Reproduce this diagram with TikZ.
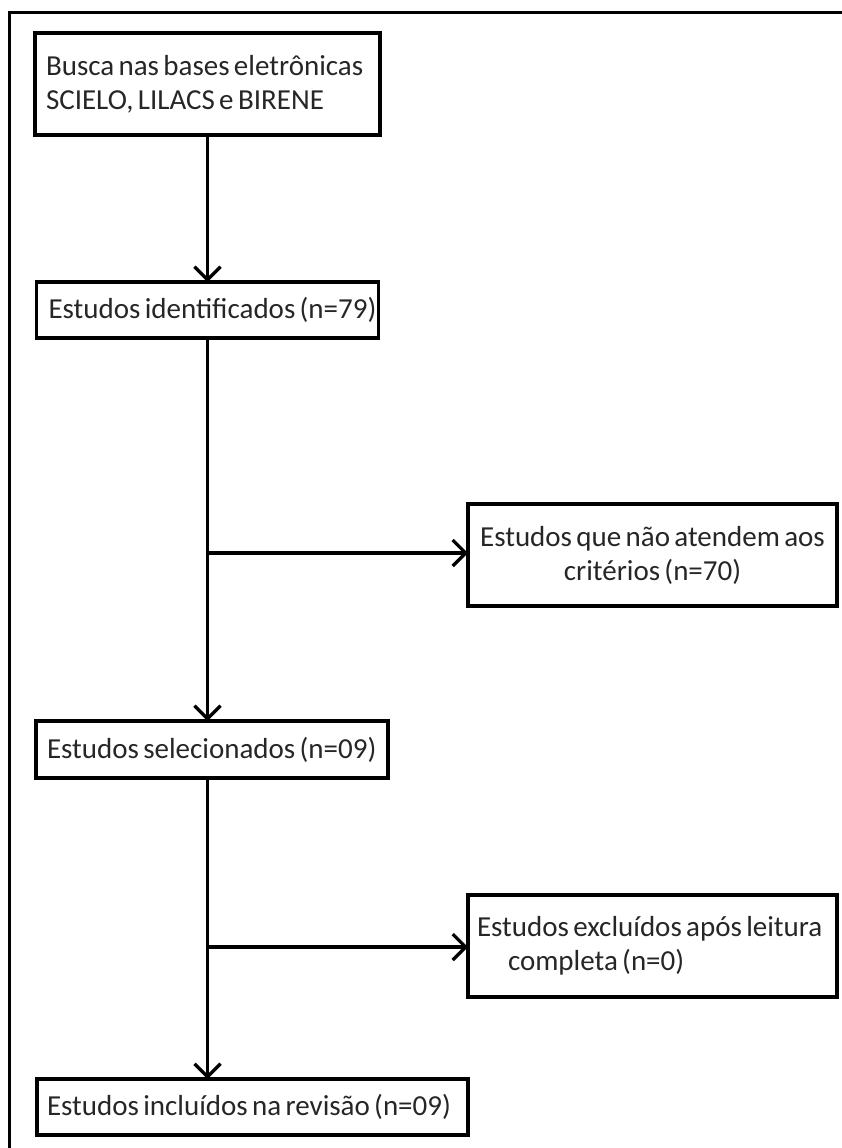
\documentclass[tikz,border=0pt]{standalone}
\usepackage{fontspec}
\setmainfont{Carlito}
\usetikzlibrary{arrows.meta}
\newcommand{\boxfont}{\fontsize{29}{34}\selectfont\spaceskip=0.15em plus 0.05em\relax}
\begin{document}
\begin{tikzpicture}[x=1pt,y=-1pt,
  box/.style={draw, line width=3.5pt, rectangle, inner ysep=0pt, outer sep=0pt,
    font=\boxfont, text=black!85},
  lbox/.style 2 args={box, inner xsep=#2, text width=#1-2*#2, align=left},
  arr/.style={line width=3.2pt, -{Straight Barb[length=13pt,width=26pt]}},
  frame/.style={line width=3pt}
]
\useasboundingbox (0,0) rectangle (842,1148);
\draw[frame] (9,1148) -- (9,13) -- (842,13);

\node[lbox={345pt}{11pt}, minimum height=102pt] (b1) at (207.5,84)
  {\mbox{\boxfont Busca nas bases eletrônicas}\\\mbox{\boxfont SCIELO, LILACS e BIRENE}\\[-24pt]};
\node[lbox={342pt}{12pt}, minimum height=56pt] (b2) at (207.5,310)
  {\mbox{\boxfont Estudos identificados (n=79)}};
\node[lbox={352pt}{11pt}, minimum height=57pt] (b3) at (212,749.5)
  {\mbox{\boxfont Estudos selecionados (n=09)}};
\node[lbox={431pt}{10pt}, minimum height=56pt] (b5) at (252.5,1107)
  {\mbox{\boxfont Estudos incluídos na revisão (n=09)}};
\node[box, inner xsep=0pt, minimum width=369pt, minimum height=102pt, align=center] (s1) at (652.5,555)
  {Estudos que não atendem aos\\critérios (n=70)};
\node[lbox={369pt}{9pt}, minimum height=102pt] (s2) at (652.5,946)
  {\mbox{\boxfont Estudos excluídos após leitura}\\\hspace*{31pt}\mbox{\boxfont completa (n=0)}};

\coordinate (j1) at (207.5,553);
\coordinate (j2) at (207.5,947);

\draw[arr] (b1.south) -- (b1.south |- b2.north);
\draw[arr] (b2.south) -- (b2.south |- b3.north);
\draw[arr] (b2.south |- b3.south) -- (b2.south |- b5.north);
\draw[arr] (j1) -- (j1 -| s1.west);
\draw[arr] (j2) -- (j2 -| s2.west);
\end{tikzpicture}
\end{document}
